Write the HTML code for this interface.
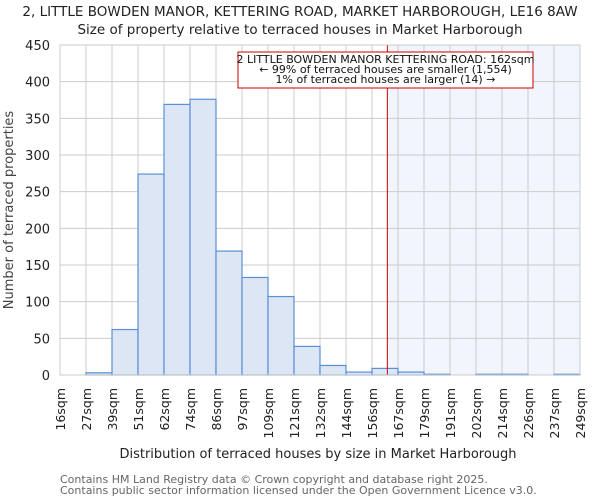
<!DOCTYPE html>
<html><head><meta charset="utf-8"><style>
body{margin:0;background:#fff;font-family:"DejaVu Sans","Liberation Sans",sans-serif;}
svg text{font-family:"DejaVu Sans","Liberation Sans",sans-serif;}
</style></head><body>
<svg id="chart" width="600" height="500" xmlns="http://www.w3.org/2000/svg">
<text x="300" y="16" text-anchor="middle" font-size="13.5" fill="#222">2, LITTLE BOWDEN MANOR, KETTERING ROAD, MARKET HARBOROUGH, LE16 8AW</text>
<text x="300" y="34" text-anchor="middle" font-size="13.5" fill="#222">Size of property relative to terraced houses in Market Harborough</text>
<g id="plot"></g>
<text x="318" y="458" text-anchor="middle" font-size="13" fill="#222">Distribution of terraced houses by size in Market Harborough</text>
<text transform="translate(13,210) rotate(-90)" text-anchor="middle" font-size="13" fill="#444">Number of terraced properties</text>
<text x="60" y="483" font-size="11" fill="#666">Contains HM Land Registry data © Crown copyright and database right 2025.</text>
<text x="60" y="494" font-size="11" fill="#666">Contains public sector information licensed under the Open Government Licence v3.0.</text>
</svg>
<script>
const binLabels=["16sqm","27sqm","39sqm","51sqm","62sqm","74sqm","86sqm","97sqm","109sqm","121sqm","132sqm","144sqm","156sqm","167sqm","179sqm","191sqm","202sqm","214sqm","226sqm","237sqm","249sqm"];
const counts=[0,3,62,274,369,376,169,133,107,39,13,4,9,4,1,0,1,1,0,1];
const yTicks=[0,50,100,150,200,250,300,350,400,450];
const markerBin=12.59;
const annotationLines=["2 LITTLE BOWDEN MANOR KETTERING ROAD: 162sqm","← 99% of terraced houses are smaller (1,554)","1% of terraced houses are larger (14) →"];

const NS="http://www.w3.org/2000/svg";
const g=document.getElementById('plot');
const L=60,R=580,T=45,B=375,yMax=450;
const nb=counts.length,bw=(R-L)/nb;
const xs=i=>L+i*bw;
const ys=v=>B-v/yMax*(B-T);
function mk(t,a){const e=document.createElementNS(NS,t);for(const k in a)e.setAttribute(k,a[k]);g.appendChild(e);return e;}

const bg=mk('rect',{x:xs(markerBin),y:T,width:R-xs(markerBin),height:B-T,fill:'#f2f5fd'});


for(let i=0;i<=nb;i++){const l=mk('line',{x1:xs(i),x2:xs(i),y1:T,y2:B,stroke:'#ccc','stroke-width':1});

}
yTicks.forEach(v=>{const l=mk('line',{x1:L,x2:R,y1:ys(v),y2:ys(v),stroke:'#ccc','stroke-width':1});


const t=mk('text',{x:L-10,y:ys(v)+5,'text-anchor':'end','font-size':13,fill:'#222'});t.textContent=v;

});
counts.forEach((c,i)=>{if(c<=0)return;const r=mk('rect',{x:xs(i),y:ys(c),width:bw,height:B-ys(c),fill:'#dde6f4',stroke:'#5b8fd6','stroke-width':1.2});

});
binLabels.forEach((s,i)=>{const t=mk('text',{transform:`translate(${xs(i)+5},388) rotate(-90)`,'text-anchor':'end','font-size':12.5,fill:'#222'});t.textContent=s;

});
const ml=mk('line',{x1:xs(markerBin),x2:xs(markerBin),y1:T,y2:B,stroke:'#c00','stroke-width':1});


const bx=mk('rect',{x:238,y:52,width:295,height:36,fill:'#fff',stroke:'#c00','stroke-width':1});


annotationLines.forEach((s,i)=>{const t=mk('text',{x:385.5,y:63+i*10,'text-anchor':'middle','font-size':11,fill:'#111'});t.textContent=s;

});
const ax=mk('rect',{x:L,y:T,width:R-L,height:B-T,fill:'none',stroke:'#ccc','stroke-width':1});


</script>
</body></html>
